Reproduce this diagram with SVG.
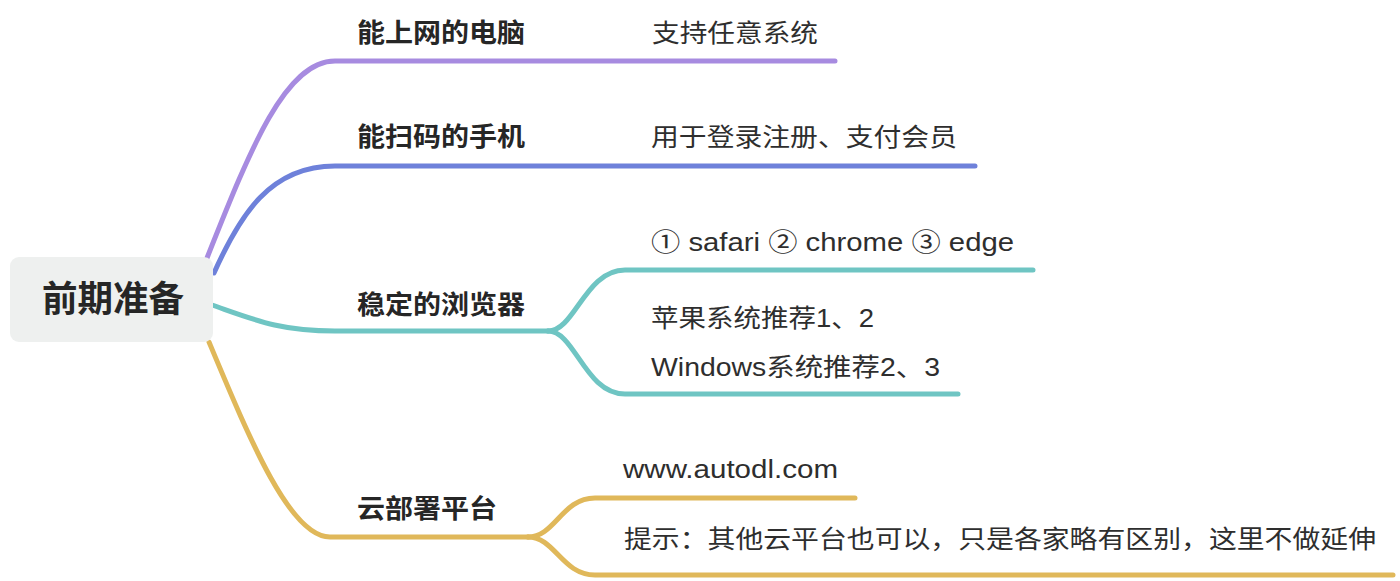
<svg xmlns="http://www.w3.org/2000/svg" width="1400" height="581" viewBox="0 0 1400 581">
<style>
.c{fill:none;stroke-width:5;stroke-linecap:round;stroke-linejoin:round}
.p{stroke:#a78be0}.b{stroke:#6e81da}.t{stroke:#6fc5c3}.y{stroke:#e0b85a}
.root{font-family:"Noto Sans CJK SC","Noto Sans",sans-serif;font-size:36px;font-weight:700;fill:#262626}
.lab{font-family:"Noto Sans CJK SC","Noto Sans",sans-serif;font-size:26px;font-weight:600;fill:#262626}
.sub{font-family:"Liberation Sans","Noto Sans CJK SC",sans-serif;font-size:25px;fill:#2e2e2e}
</style>
<rect width="1400" height="581" fill="#ffffff"/>
<g id="connectors">
<path class="c p" d="M207,258 C250,150 285,61 335,61 L835,61"/>
<path class="c b" d="M214,273 C240,215 270,166 335,166 L975,166"/>
<path class="c t" d="M212,305 C255,320 280,331 335,331 L548,331"/>
<path class="c t" d="M548,331 C575,331 585,270 625,270 L1033,270"/>
<path class="c t" d="M548,331 C575,331 585,394 625,394 L958,394"/>
<path class="c y" d="M209,342 C250,440 290,537 330,537 L528,537"/>
<path class="c y" d="M528,537 C555,537 562,498 595,498 L855,498"/>
<path class="c y" d="M528,537 C555,537 562,575 595,575 L1393,575"/>
</g>
<g id="root">
<rect x="10" y="257" width="203" height="85" rx="9" fill="#eef0ef"/>
<text class="root" x="42" y="312" textLength="142" lengthAdjust="spacingAndGlyphs">前期准备</text>
</g>
<g id="n1">
<text class="lab" x="357" y="42" textLength="168" lengthAdjust="spacingAndGlyphs">能上网的电脑</text>
</g>
<g id="n1a">
<text class="sub" x="652" y="42" textLength="166" lengthAdjust="spacingAndGlyphs">支持任意系统</text>
</g>
<g id="n2">
<text class="lab" x="357" y="146" textLength="168" lengthAdjust="spacingAndGlyphs">能扫码的手机</text>
</g>
<g id="n2a">
<text class="sub" x="651" y="146" textLength="306" lengthAdjust="spacingAndGlyphs">用于登录注册、支付会员</text>
</g>
<g id="n3">
<text class="lab" x="357" y="314" textLength="168" lengthAdjust="spacingAndGlyphs">稳定的浏览器</text>
</g>
<g id="n3a">
<text class="sub" x="651" y="251" textLength="363" lengthAdjust="spacingAndGlyphs">① safari ② chrome ③ edge</text>
</g>
<g id="n3b">
<text class="sub" x="651" y="327" textLength="223" lengthAdjust="spacingAndGlyphs">苹果系统推荐1、2</text>
<text class="sub" x="651" y="376" textLength="289" lengthAdjust="spacingAndGlyphs">Windows系统推荐2、3</text>
</g>
<g id="n4">
<text class="lab" x="357" y="518" textLength="140" lengthAdjust="spacingAndGlyphs">云部署平台</text>
</g>
<g id="n4a">
<text class="sub" x="623" y="478" textLength="215" lengthAdjust="spacingAndGlyphs">www.autodl.com</text>
</g>
<g id="n4b">
<text class="sub" x="624" y="548" textLength="752" lengthAdjust="spacingAndGlyphs">提示：其他云平台也可以，只是各家略有区别，这里不做延伸</text>
</g>
</svg>
